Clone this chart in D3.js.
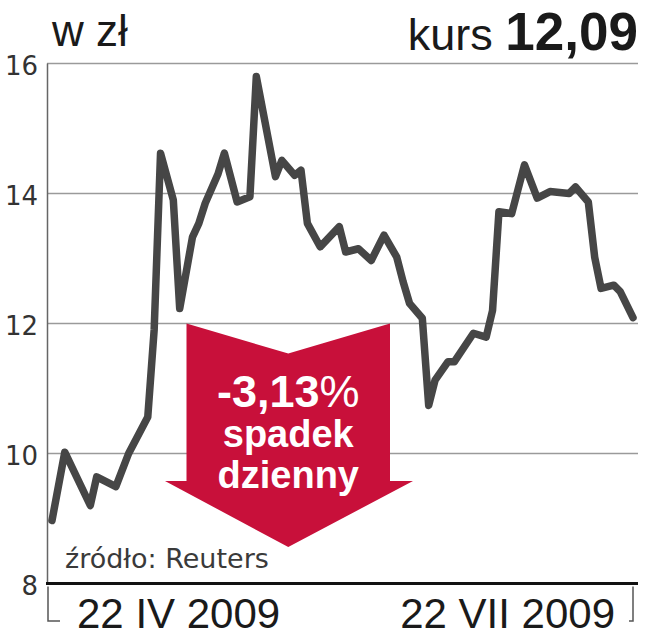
<!DOCTYPE html>
<html lang="pl">
<head>
<meta charset="utf-8">
<script src="https://d3js.org/d3.v7.min.js"></script>
<style>
  body { margin: 0; background: #fff; }
  svg { background: #fff; display: block; }
  .grid line { stroke: #9a9a9a; stroke-width: 1.5px; }
  .ylab { font-family: 'DejaVu Sans'; font-size: 26px; fill: #333; }
  .xlab { font-family: 'Liberation Sans', Arial, sans-serif; font-size: 42px; fill: #1a1a1a; }
  .price { fill: none; stroke: #464646; stroke-width: 7.5px; stroke-linejoin: round; stroke-linecap: round; }
  .bracket { fill: none; stroke: #555; stroke-width: 1.5px; }
</style>
</head>
<body>
<svg width="645" height="640"></svg>
<script>
// notowania, dzienne
const dates = ["2009-04-22","2009-04-24","2009-04-28","2009-04-29","2009-05-02","2009-05-04","2009-05-07","2009-05-08",
  "2009-05-09","2009-05-11","2009-05-12","2009-05-14","2009-05-15","2009-05-16","2009-05-18","2009-05-19","2009-05-21",
  "2009-05-23","2009-05-24","2009-05-27","2009-05-28","2009-05-30","2009-05-31","2009-06-01","2009-06-03","2009-06-06",
  "2009-06-07","2009-06-09","2009-06-11","2009-06-13","2009-06-15","2009-06-16","2009-06-17","2009-06-19","2009-06-20",
  "2009-06-21","2009-06-23","2009-06-24","2009-06-27","2009-06-29","2009-06-30","2009-07-01","2009-07-03","2009-07-05",
  "2009-07-07","2009-07-09","2009-07-12","2009-07-13","2009-07-15","2009-07-16","2009-07-17","2009-07-19","2009-07-20",
  "2009-07-22"];
const prices = [8.97,10.02,9.20,9.64,9.49,10.0,10.56,11.9,
  14.62,13.9,12.23,13.33,13.54,13.85,14.3,14.62,13.87,
  13.95,15.8,14.26,14.51,14.28,14.36,13.54,13.18,13.49,
  13.1,13.15,12.97,13.36,13.02,12.64,12.31,12.08,10.74,
  11.13,11.41,11.41,11.85,11.79,12.2,13.72,13.69,14.44,
  13.93,14.03,14.0,14.1,13.87,13.02,12.54,12.59,12.49,
  12.09];
const yTicks = [8, 10, 12, 14, 16];
const dateLabels = ["22 IV 2009", "22 VII 2009"];
const lastPrice = "12,09";
const change = "-3,13";

const svg = d3.select("svg");
const parse = d3.timeParse("%Y-%m-%d");
const data = dates.map((d, i) => ({ date: parse(d), value: prices[i] }));

const x = d3.scaleTime()
  .domain([parse("2009-04-22"), parse("2009-07-22")])
  .range([52, 633]);
const y = d3.scaleLinear().domain([8, 16]).range([583.5, 63.5]);

// siatka
svg.append("g").attr("class", "grid")
  .selectAll("line").data(yTicks.filter(t => t > 8)).join("line")
  .attr("x1", 47).attr("x2", 638)
  .attr("y1", d => y(d)).attr("y2", d => y(d));

svg.append("line")
  .attr("x1", 47.5).attr("x2", 47.5).attr("y1", y(16)).attr("y2", y(8))
  .attr("stroke", "#666").attr("stroke-width", 1.5);

svg.append("line")
  .attr("x1", 46).attr("x2", 638).attr("y1", y(8)).attr("y2", y(8))
  .attr("stroke", "#111").attr("stroke-width", 3);

svg.selectAll(".ylab").data(yTicks).join("text")
  .attr("class", "ylab")
  .attr("x", 38).attr("y", d => y(d) + 11)
  .attr("text-anchor", "end")
  .text(d => d);

// strzałka
const aTop = y(12), aL = 186.5, aR = 390, aMid = (aL + aR) / 2;
const wingY = 481, tipY = 547;
svg.append("path")
  .attr("d", `M${aL},${aTop} L${aMid},${aTop + 30} L${aR},${aTop} L${aR},${wingY} L413,${wingY} L${aMid},${tipY} L165,${wingY} L${aL},${wingY} Z`)
  .attr("fill", "#c8103a");

const at = svg.append("g").attr("fill", "#fff").attr("text-anchor", "middle")
  .style("font-family", "'Liberation Sans', Arial, sans-serif");
const t1 = at.append("text").attr("x", aMid).attr("y", 407).style("font-size", "45px");
t1.append("tspan").style("font-weight", "bold").text(change);
t1.append("tspan").text("%");
at.append("text").attr("x", aMid).attr("y", 447).style("font-size", "38px").style("font-weight", "bold").text("spadek");
at.append("text").attr("x", aMid).attr("y", 488).style("font-size", "38px").style("font-weight", "bold").text("dzienny");

// linia kursu
svg.append("path").datum(data)
  .attr("class", "price")
  .attr("d", d3.line().x(d => x(d.date)).y(d => y(d.value)));

// opisy
svg.append("text")
  .attr("x", 52).attr("y", 46)
  .style("font-family", "'Liberation Sans', Arial, sans-serif").style("font-size", "44px").attr("fill", "#1a1a1a")
  .text("w zł");

const kt = svg.append("text").attr("x", 638).attr("y", 50).attr("text-anchor", "end")
  .style("font-family", "'Liberation Sans', Arial, sans-serif").attr("fill", "#1a1a1a");
kt.append("tspan").style("font-size", "45px").text("kurs ");
kt.append("tspan").style("font-size", "53px").style("font-weight", "bold").text(lastPrice);

svg.append("text")
  .attr("x", 65).attr("y", 568)
  .style("font-family", "'DejaVu Sans'").style("font-size", "27px").attr("fill", "#3a3a3a")
  .text("źródło: Reuters");

// oś czasu
const bY = 621;
svg.append("path").attr("class", "bracket")
  .attr("d", `M${x.range()[0] - 4},${y(8) + 3} V${bY} H${x.range()[0] + 8}`);
svg.append("path").attr("class", "bracket")
  .attr("d", `M${x.range()[1] - 4},${bY} H${x.range()[1]} V${y(8) + 3}`);

svg.append("text").attr("class", "xlab")
  .attr("x", x.range()[0] + 25).attr("y", 628)
  .text(dateLabels[0]);
svg.append("text").attr("class", "xlab")
  .attr("x", x.range()[1] - 18).attr("y", 628).attr("text-anchor", "end")
  .text(dateLabels[1]);
</script>
</body>
</html>
